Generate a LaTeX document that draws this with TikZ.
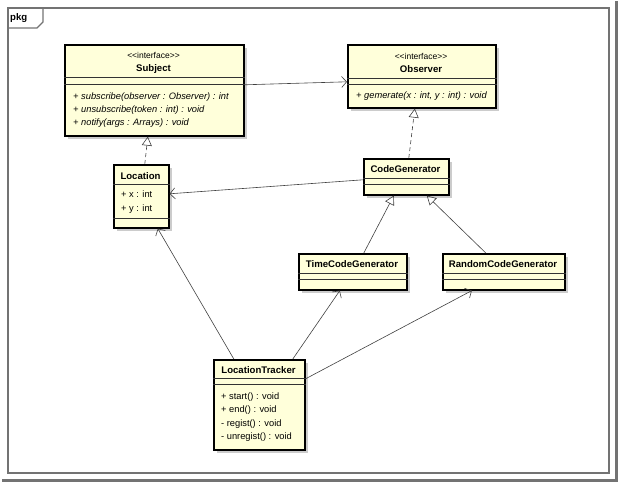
\documentclass[tikz,border=0pt]{standalone}
\usepackage{fontspec}
\setmainfont{Liberation Sans}
\usetikzlibrary{arrows.meta,shadows}

\tikzset{
	classbox/.style={draw=black, line width=1.6pt, fill={rgb,255:red,255;green,255;blue,218}, anchor=north west, inner sep=0pt,
		drop shadow={shadow xshift=3pt, shadow yshift=-3pt, fill=black!20, opacity=1}},
	sep/.style={draw=black!80, line width=0.7pt},
	frame/.style={draw=black!55, line width=1.2pt},
	cname/.style={font=\fontsize{9.6}{11}\selectfont\bfseries, inner sep=0pt},
	stereo/.style={font=\fontsize{8.5}{10}\selectfont, inner sep=0pt},
	ops/.style={font=\fontsize{9.3}{13.3}\selectfont, align=left, anchor=west, inner sep=0pt},
	assoc/.style={draw=black!75, line width=0.6pt, -{Straight Barb[length=5pt,width=11pt]}},
	realize/.style={draw=black!75, line width=0.6pt, dash pattern=on 4pt off 3pt, -{Triangle[open,length=9pt,width=10pt]}},
	inherit/.style={draw=black!75, line width=0.6pt, -{Triangle[open,length=9pt,width=10pt]}},
}

\begin{document}
\begin{tikzpicture}[x=1pt, y=-1pt]
	\useasboundingbox (0,0) rectangle (620,484);
	\fill[black!55] (2,479) rectangle (618,482);
	\fill[black!55] (615,1) rectangle (618,482);

	\draw[frame] (8,8) rectangle (609,473);
	\draw[frame] (8,28) -- (37,28) -- (43,22) -- (43,8);
	\node[cname, anchor=west] (pkg) at (10,18) {pkg};

	\node[classbox, minimum width=179pt, minimum height=91pt] (subject) at (64,44) {};
	\node[classbox, minimum width=148pt, minimum height=63pt] (observer) at (347,44) {};
	\node[classbox, minimum width=55pt, minimum height=63pt] (location) at (113,164) {};
	\node[classbox, minimum width=85pt, minimum height=36pt] (codegen) at (363,158) {};
	\node[classbox, minimum width=108pt, minimum height=36pt] (timegen) at (298,253) {};
	\node[classbox, minimum width=122pt, minimum height=36pt] (randgen) at (442,253) {};
	\node[classbox, minimum width=91pt, minimum height=90pt] (tracker) at (213,359) {};

	\foreach \n/\a/\b in {subject/33/40, observer/34/40, location/20/54, codegen/20/26, timegen/20/26, randgen/20/26, tracker/19/25}{
		\draw[sep] ([yshift=-\a pt]\n.north west) -- ([yshift=-\a pt]\n.north east);
		\draw[sep] ([yshift=-\b pt]\n.north west) -- ([yshift=-\b pt]\n.north east);
	}

	\node[stereo] (subject-st) at (153.5,55) {<{}<interface>{}>};
	\node[cname] (subject-name) at (153.5,69) {Subject};
	\node[ops, font=\fontsize{9.3}{13.3}\selectfont\itshape] (subject-ops) at (73,110)
		{+ subscribe(observer : Observer) : int\\+ unsubscribe(token : int) : void\\+ notify(args : Arrays) : void};

	\node[stereo] (observer-st) at (421,56) {<{}<interface>{}>};
	\node[cname] (observer-name) at (421,69) {Observer};
	\node[ops, font=\fontsize{9.3}{13.3}\selectfont\itshape] (observer-ops) at (356,96) {+ gemerate(x : int, y : int) : void};

	\node[cname] (location-name) at (140.5,176) {Location};
	\node[ops, font=\fontsize{9.3}{14}\selectfont] (location-ops) at (121,202) {+ x : int\\+ y : int};

	\node[cname] (codegen-name) at (405.5,169) {CodeGenerator};
	\node[cname] (timegen-name) at (352,264) {TimeCodeGenerator};
	\node[cname] (randgen-name) at (503,264) {RandomCodeGenerator};

	\node[cname] (tracker-name) at (258.5,370) {LocationTracker};
	\node[ops] (tracker-ops) at (221,417) {+ start() : void\\+ end() : void\\- regist() : void\\- unregist() : void};

	\draw[assoc] ([yshift=5.5pt]subject.east) -- ([yshift=-5.5pt]observer.west);
	\draw[realize] ([xshift=3.5pt]location.north) -- ([xshift=-6.5pt]subject.south);
	\draw[realize] ([xshift=2.5pt]codegen.north) -- ([xshift=-7pt]observer.south);
	\draw[assoc] ([yshift=-3pt]codegen.west) -- ([yshift=2.5pt]location.east);
	\draw[inherit] ([xshift=11pt]timegen.north) -- ([xshift=-12.5pt]codegen.south);
	\draw[inherit] ([xshift=-18pt]randgen.north) -- ([xshift=20.5pt]codegen.south);
	\draw[assoc] ([xshift=-25.5pt]tracker.north) -- ([xshift=16.5pt]location.south);
	\draw[assoc] ([xshift=33.5pt]tracker.north) -- ([xshift=-13pt]timegen.south);
	\draw[assoc] ([yshift=26pt]tracker.east) -- ([xshift=-32pt]randgen.south);
\end{tikzpicture}
\end{document}
